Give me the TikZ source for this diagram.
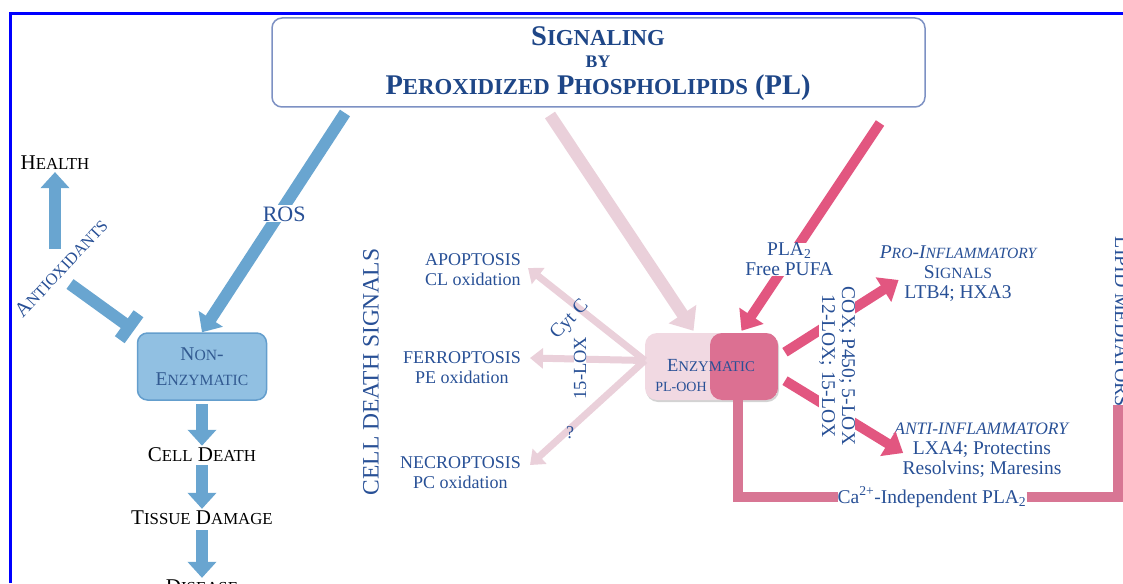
\documentclass[tikz,border=0pt]{standalone}
\usepackage{fontspec}
\setmainfont{Liberation Serif}
\usepackage{graphicx}
\usetikzlibrary{arrows.meta,shadows}

\definecolor{frameblue}{RGB}{0,0,255}
\definecolor{titleline}{RGB}{125,145,195}
\definecolor{titleblue}{RGB}{30,70,135}
\definecolor{labblue}{RGB}{40,80,150}
\definecolor{rosblue}{RGB}{105,165,208}
\definecolor{nefill}{RGB}{145,192,226}
\definecolor{neline}{RGB}{100,158,205}
\definecolor{netext}{RGB}{50,90,145}
\definecolor{palepink}{RGB}{234,208,218}
\definecolor{hotpink}{RGB}{226,86,128}
\definecolor{capink}{RGB}{216,118,148}
\definecolor{enzleft}{RGB}{241,217,226}
\definecolor{enzright}{RGB}{220,112,146}

\newcommand\lowcaps[1]{\scalebox{0.8}{#1}}

\tikzset{
	ttl/.style={text=titleblue, inner sep=0pt, font=\fontsize{28.5}{30}\selectfont\bfseries},
	lbl/.style={text=labblue, inner sep=1pt, align=center, font=\fontsize{19.5}{20}\selectfont},
	death/.style={lbl, anchor=east, font=\fontsize{18}{20}\selectfont},
	blk/.style={text=black, inner sep=0pt, font=\fontsize{21}{23}\selectfont},
	bluearrow/.style={rosblue, line width=12pt, -{Triangle[width=28pt,length=16pt]}},
	palearrow/.style={palepink, line width=12pt, -{Triangle[width=32pt,length=20pt]}},
	deatharrow/.style={palepink, line width=7pt, -{Triangle[width=20pt,length=13pt]}},
	pinkarrow/.style={hotpink, line width=10pt, -{Triangle[width=28pt,length=18pt]}},
}

\begin{document}
\begin{tikzpicture}[x=1pt,y=-1pt]
	\useasboundingbox (0,0) rectangle (1123,583);
	\draw[frameblue, line width=3pt] (10,583) -- (10,14) -- (1123,14);

	% title
	\node[draw=titleline, line width=1.5pt, rounded corners=10pt, minimum width=653pt, minimum height=89pt] (title) at (598.5,62.5) {};
	\node[ttl] (sig) at (598,36) {S\lowcaps{IGNALING}};
	\node[ttl] (by) at (598,62) {\scalebox{0.62}{BY}};
	\node[ttl] (ppl) at (598,88) {P\lowcaps{EROXIDIZED} P\lowcaps{HOSPHOLIPIDS} (PL)};

	% non-enzymatic side
	\node[fill=nefill, draw=neline, line width=1.5pt, rounded corners=10pt, minimum width=129pt, minimum height=67pt,
		text=netext, align=center, font=\fontsize{19.5}{25}\selectfont] (nonenz) at (202,366.5) {N\lowcaps{ON}-\\E\lowcaps{NZYMATIC}};
	\node[blk] (health) at (55,163) {H\lowcaps{EALTH}};
	\node[blk] (celldeath) at (202,455) {C\lowcaps{ELL} D\lowcaps{EATH}};
	\node[blk] (tissue) at (202,518) {T\lowcaps{ISSUE} D\lowcaps{AMAGE}};
	\node[blk] (disease) at (202,587) {D\lowcaps{ISEASE}};
	\node[lbl, rotate=47, font=\fontsize{20.5}{22}\selectfont] (antiox) at (61,268) {A\lowcaps{NTIOXIDANTS}};

	\coordinate (hl0) at (55,249);
	\coordinate (ao0) at (70,284);
	\coordinate (ros0) at (345,113);
	\draw[bluearrow] (hl0) -- ([yshift=-2pt]health.south);
	\draw[rosblue, line width=12pt, -{Bar[width=32pt]}] (ao0) -- ([xshift=-68pt,yshift=2pt]nonenz.north);
	\draw[bluearrow] (ros0) -- node[lbl, fill=white, pos=0.46, xshift=5pt, font=\fontsize{22}{24}\selectfont] (ros) {ROS} (nonenz.north);
	\draw[bluearrow] ([yshift=-3pt]nonenz.south) -- ([yshift=2pt]celldeath.north);
	\draw[bluearrow] ([yshift=-3pt]celldeath.south) -- ([yshift=2pt]tissue.north);
	\draw[bluearrow] ([yshift=-5pt]tissue.south) -- ([yshift=2pt]disease.north);

	% cell death signals
	\node[lbl, rotate=90, font=\fontsize{23.5}{25}\selectfont] (cds) at (371,372) {CELL DEATH SIGNALS};
	\node[death] (apop) at (522,270) {APOPTOSIS\\CL oxidation};
	\node[death] (ferro) at (522,368) {FERROPTOSIS\\PE oxidation};
	\node[death] (necro) at (522,473) {NECROPTOSIS\\PC oxidation};

	% enzymatic box
	\node[fill=enzleft, rounded corners=12pt, minimum width=133pt, minimum height=67pt,
		drop shadow={opacity=0.35, shadow xshift=1pt, shadow yshift=-2pt},
		path picture={\fill[enzright] ([xshift=-1.5pt]path picture bounding box.north) rectangle (path picture bounding box.south east);}]
		(enz) at (711.5,366.5) {};
	\node[text=labblue, font=\fontsize{18.5}{20}\selectfont] (enzlab) at (711,366) {E\lowcaps{NZYMATIC}};
	\node[text=labblue, font=\fontsize{14}{16}\selectfont] (plooh) at (681,387) {PL-OOH};

	\coordinate (pk0) at (550,115);
	\coordinate (hub) at ([yshift=6pt]enz.west);
	\draw[palearrow] (pk0) -- ([xshift=-18pt,yshift=2pt]enz.north);
	\draw[deatharrow] (hub) -- ([xshift=6pt,yshift=2pt]apop.east);
	\draw[deatharrow] (hub) -- ([xshift=8pt,yshift=10pt]ferro.east);
	\draw[deatharrow] (hub) -- ([xshift=8pt,yshift=8pt]necro.east);
	\node[lbl, rotate=47, font=\fontsize{19.5}{20}\selectfont] (cytc) at (570,320) {Cyt C};
	\node[lbl, rotate=90, fill=white, inner sep=0pt, font=\fontsize{18.5}{20}\selectfont] (lox) at (580,368) {15-LOX};
	\node[lbl, font=\fontsize{18}{20}\selectfont] (unk) at (570,433) {?};

	% enzymatic side
	\node[lbl] (pro) at (958,274) {\textit{P\lowcaps{RO}-I\lowcaps{NFLAMMATORY}}\\S\lowcaps{IGNALS}\\LTB4; HXA3};
	\node[lbl] (anti) at (982,450) {{\fontsize{17.5}{20}\selectfont\textit{ANTI-INFLAMMATORY}}\\LXA4; Protectins\\Resolvins; Maresins};
	\node[lbl, rotate=-90, anchor=base, font=\fontsize{20}{22}\selectfont] (lipid) at (1115,322) {LIPID MEDIATORS};

	\coordinate (pla0) at (880,123);
	\draw[pinkarrow] (pla0) -- node[lbl, fill=white, pos=0.655, inner sep=0pt] (pla) {PLA\textsubscript{2}\\Free PUFA} ([xshift=30pt,yshift=2pt]enz.north);
	\draw[pinkarrow, shorten <=8pt] ([yshift=10pt]enz.east) -- ([xshift=20pt,yshift=-6pt]pro.west);
	\draw[pinkarrow, shorten <=8pt] ([yshift=-10pt]enz.east) -- ([xshift=10pt,yshift=-3pt]anti.west);
	\node[lbl, rotate=-90, fill=white, inner sep=0pt] (cox) at (837,366) {COX; P450; 5-LOX\\12-LOX; 15-LOX};

	\node[lbl, inner sep=0pt] (calab) at (932,497) {Ca\textsuperscript{2+}-Independent PLA\textsubscript{2}};
	\coordinate (ca0) at ([xshift=26pt]enz.south);
	\coordinate (ca3) at (1118,405);
	\draw[capink, line width=10pt] (ca0) |- (calab.west);
	\draw[capink, line width=10pt] (calab.east) -| (ca3);
\end{tikzpicture}
\end{document}
